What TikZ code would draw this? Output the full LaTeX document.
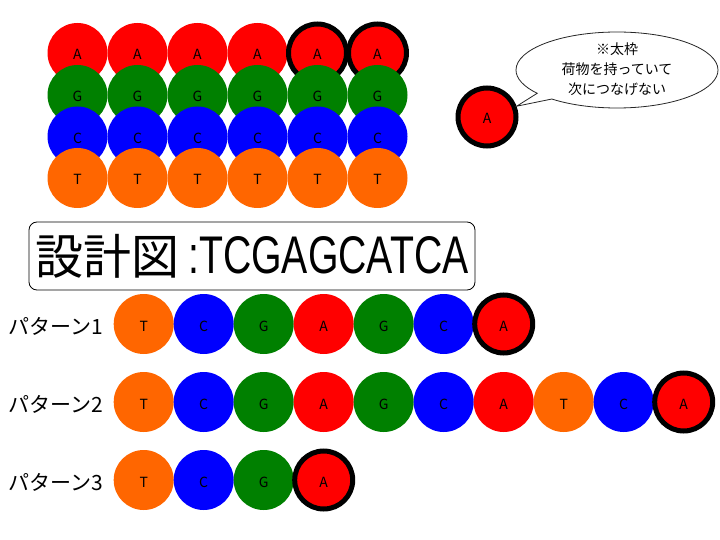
\documentclass[tikz,border=0pt]{standalone}
\usepackage{fontspec}
\setmainfont{Liberation Sans}
\newfontfamily\jp{Noto Sans CJK JP}
\newfontfamily\narrow[FakeStretch=0.74]{Liberation Sans}
\usetikzlibrary{shapes.callouts}
\definecolor{colA}{RGB}{255,0,0}
\definecolor{colG}{RGB}{0,128,0}
\definecolor{colC}{RGB}{0,0,255}
\definecolor{colT}{RGB}{255,102,0}
\tikzset{
  bead/.style={circle, inner sep=0pt, minimum size=60pt, text height=14pt, text depth=0pt,
               font=\jp\fontsize{14}{14}\selectfont},
  heavy/.style={draw=black, line width=5pt, minimum size=58pt},
  plabel/.style={anchor=west, inner sep=0pt, font=\jp\fontsize{21}{21}\selectfont},
}
\begin{document}
\begin{tikzpicture}[x=1pt,y=-1pt]
\useasboundingbox[fill=white] (0,0) rectangle (720,540);
% top grid
\foreach \i in {1,...,4} \node[bead, fill=colA] (gA\i) at ({17.5+60*\i},53) {A};
\foreach \i in {5,6} \node[bead, fill=colA, heavy] (gA\i) at ({17.5+60*\i},53) {A};
\foreach \i in {1,...,6} \node[bead, fill=colG] (gG\i) at ({17.5+60*\i},95) {G};
\foreach \i in {1,...,6} \node[bead, fill=colC] (gC\i) at ({17.5+60*\i},136.5) {C};
\foreach \i in {1,...,6} \node[bead, fill=colT] (gT\i) at ({17.5+60*\i},178) {T};
% callout
\node[bead, fill=colA, heavy] (callA) at (487,117) {A};
\node[ellipse callout, draw=black!85, fill=white, line width=0.8pt, minimum width=202pt,
      minimum height=76pt, callout pointer arc=12, callout absolute pointer={(callA.20)}] (bubble) at (617,70) {};
\node[font=\jp\fontsize{14}{20}\selectfont, align=center] (note) at (617,69)
  {※太枠\\荷物を持っていて\\次につなげない};
% title
\node[draw, rounded corners=8pt, minimum width=446pt, minimum height=68pt, line width=0.8pt]
  (tbox) at (252,256) {};
\node[anchor=base west, inner sep=0pt, font=\jp\fontsize{48}{48}\selectfont] (kanji) at (35,274) {設計図};
\node[anchor=base west, inner sep=0pt, font=\narrow\fontsize{53}{53}\selectfont] (seq) at (188,273) {:TCGAGCATCA};
% pattern 1
\node[plabel] (lab1) at (8,326) {パターン1};
\foreach \l [count=\k] in {T,C,G,A,G,C} \node[bead, fill=col\l] (pa\k) at ({83.7+60*\k},324) {\l};
\node[bead, fill=colA, heavy] (pa7) at (503.7,324) {A};
% pattern 2
\node[plabel] (lab2) at (8,404) {パターン2};
\foreach \l [count=\k] in {T,C,G,A,G,C,A,T,C} \node[bead, fill=col\l] (pb\k) at ({83.7+60*\k},402) {\l};
\node[bead, fill=colA, heavy] (pb10) at (683.7,402) {A};
% pattern 3
\node[plabel] (lab3) at (8,482) {パターン3};
\foreach \l [count=\k] in {T,C,G} \node[bead, fill=col\l] (pc\k) at ({83.7+60*\k},480) {\l};
\node[bead, fill=colA, heavy] (pc4) at (323.7,480) {A};
\end{tikzpicture}
\end{document}
